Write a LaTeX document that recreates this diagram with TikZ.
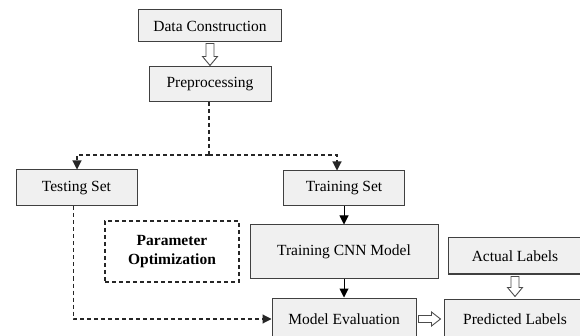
\documentclass[tikz,border=0pt]{standalone}
\usepackage{fontspec}
\setmainfont{Liberation Serif}
\usetikzlibrary{arrows.meta,calc}
\begin{document}
\begin{tikzpicture}[x=1pt,y=-1pt,
  box/.style={draw=black!75, fill=black!6, line width=1pt, inner sep=0pt, font=\fontsize{15.5}{17}\selectfont},
  dbox/.style={draw=black!85, dash pattern=on 4pt off 3pt, line width=1.1pt, inner sep=0pt, align=center, font=\fontsize{15.5}{18.5}\selectfont\bfseries},
  dline/.style={draw=black!85, line width=1.1pt, dash pattern=on 4pt off 3pt},
  tip/.style={-{Triangle[length=9pt,width=9pt]}},
  sline/.style={draw=black, line width=1pt},
  hshape/.style={draw=black!70, line width=0.9pt, fill=white, line join=miter},
]
\useasboundingbox (0,0) rectangle (580,336);
\clip (0,0) rectangle (580,336);

\node[box, minimum width=143pt, minimum height=32pt] (dc) at (210,26) {Data Construction};
\node[box, minimum width=122pt, minimum height=35pt] (pre) at (210,84.5) {Preprocessing};
\node[box, minimum width=121pt, minimum height=36pt] (test) at (76.5,188) {Testing Set};
\node[box, minimum width=121pt, minimum height=35pt] (train) at (344,188.5) {Training Set};
\node[dbox, minimum width=134pt, minimum height=61pt] (param) at (172,251.5) {Parameter\\Optimization};
\node[box, minimum width=188pt, minimum height=53pt] (cnn) at (344,251.5) {Training CNN Model};
\node[box, minimum width=144pt, minimum height=42pt] (eval) at (344,319) {Model Evaluation};
\node[box, minimum width=134pt, minimum height=36pt] (act) at (515,256) {Actual Labels};
\node[box, minimum width=142pt, minimum height=40pt] (pred) at (515,319) {Predicted Labels};

% hollow arrows (vertical)
\draw[hshape] let \p1=(dc.south), \p2=(pre.north) in
  (\x2-4pt,\y1-1pt) -- (\x2-4pt,\y2+10pt) -- (\x2-7.5pt,\y2+10pt) -- (\x2,\y2+1pt)
  -- (\x2+7.5pt,\y2+10pt) -- (\x2+4pt,\y2+10pt) -- (\x2+4pt,\y1-1pt) -- cycle;
\draw[hshape] let \p1=(act.south), \p2=(pred.north) in
  (\x2-4pt,\y1-2pt) -- (\x2-4pt,\y2+11pt) -- (\x2-7.5pt,\y2+11pt) -- (\x2,\y2+2pt)
  -- (\x2+7.5pt,\y2+11pt) -- (\x2+4pt,\y2+11pt) -- (\x2+4pt,\y1-2pt) -- cycle;
% hollow arrow (horizontal)
\draw[hshape] let \p1=(eval.east), \p2=(pred.west) in
  (\x1+2pt,\y1+3.5pt) -- (\x2-12pt,\y1+3.5pt) -- (\x2-12pt,\y1+7pt) -- (\x2-3pt,\y1)
  -- (\x2-12pt,\y1-7pt) -- (\x2-12pt,\y1-3.5pt) -- (\x1+2pt,\y1-3.5pt) -- cycle;

% dashed split
\coordinate (j) at (209,155);
\coordinate (jl) at (77,155);
\coordinate (jr) at (337,155);
\draw[dline] (pre.south -| j) -- (j);
\draw[dline, tip] (j) -- (jl) -- (jl |- test.north);
\draw[dline, tip] (j) -- (jr) -- (jr |- train.north);

% testing to evaluation
\draw[dline, tip] ([xshift=-3pt]test.south) |- (eval.west);

% solid arrows
\draw[sline, tip] (train.south) -- (cnn.north);
\draw[sline, tip] (cnn.south) -- (eval.north);
\end{tikzpicture}
\end{document}
